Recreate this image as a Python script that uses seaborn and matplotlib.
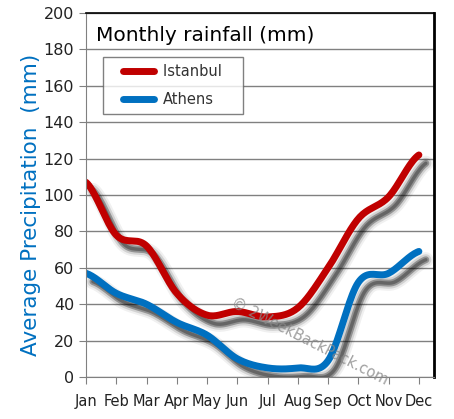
import numpy as np
import pandas as pd
import seaborn as sns
import matplotlib
matplotlib.use("Agg")
import matplotlib.pyplot as plt
import matplotlib.patheffects as pe
from matplotlib.legend_handler import HandlerLine2D

# monthly rainfall (mm)
months = ["Jan", "Feb", "Mar", "Apr", "May", "Jun", "Jul", "Aug", "Sep", "Oct", "Nov", "Dec"]
istanbul = [107, 78, 72, 46, 34, 36, 33, 38, 60, 87, 99, 122]
athens = [57, 46, 40, 30, 23, 10, 5, 5, 9, 52, 57, 69]
yticks = list(range(0, 201, 20))

red = "#C00000"
blue = "#0070C0"


def smooth(vals, n=20):
    # catmull-rom curve through the monthly values (display smoothing only)
    p = np.array(vals, dtype=float)
    p = np.concatenate([[p[0]], p, [p[-1]]])
    xs, ys = [], []
    for i in range(1, len(p) - 2):
        t = np.linspace(0, 1, n, endpoint=False)
        p0, p1, p2, p3 = p[i - 1], p[i], p[i + 1], p[i + 2]
        y = 0.5 * (2 * p1 + (-p0 + p2) * t + (2 * p0 - 5 * p1 + 4 * p2 - p3) * t ** 2
                   + (-p0 + 3 * p1 - 3 * p2 + p3) * t ** 3)
        xs.extend(i - 1 + t)
        ys.extend(y)
    xs.append(len(vals) - 1)
    ys.append(vals[-1])
    return np.array(xs), np.array(ys)


sns.set_style("white")
plt.rcParams["font.family"] = ["DejaVu Sans"]

fig = plt.figure(figsize=(4.54, 4.19), dpi=100)
ax = fig.add_axes([0.1894, 0.1002, 0.7666, 0.8688])

# soft drop shadow: a few stacked offset strokes
off = (5, -6)
shadow = [pe.SimpleLineShadow(offset=off, shadow_color="k", alpha=0.06, linewidth=11),
          pe.SimpleLineShadow(offset=off, shadow_color="k", alpha=0.12, linewidth=8),
          pe.SimpleLineShadow(offset=off, shadow_color="k", alpha=0.3, linewidth=5),
          pe.SimpleLineShadow(offset=off, shadow_color="k", alpha=0.3, linewidth=2.5),
          pe.Normal()]

for name, vals, col in [("Istanbul   ", istanbul, red), ("Athens", athens, blue)]:
    sx, sy = smooth(vals)
    df = pd.DataFrame({"x": sx, "y": sy})
    sns.lineplot(data=df, x="x", y="y", ax=ax, color=col, linewidth=5,
                 solid_capstyle="round", label=name, path_effects=shadow)

ax.set_xlim(0, 11.5)
ax.set_ylim(0, 200)
ax.set_xticks(range(len(months)))
ax.set_xticklabels(months)
ax.set_yticks(yticks)
ax.set_yticklabels([str(v) for v in yticks])
ax.set_xlabel("")
ax.set_ylabel("Average Precipitation  (mm)", color=blue, fontsize=15.5)
ax.yaxis.set_label_coords(-0.13, 0.472)
ax.yaxis.grid(True, color="#808080", linewidth=1)
ax.set_axisbelow(True)

ax.tick_params(axis="both", direction="out", length=5, color="#808080",
               labelsize=10.5, labelcolor="#222222", left=True, bottom=True)
ax.tick_params(axis="x", pad=7)
ax.tick_params(axis="y", labelsize=11.5)
ax.spines["left"].set_color("#808080")
ax.spines["bottom"].set_color("#808080")
ax.spines["top"].set_color("black")
ax.spines["top"].set_linewidth(1.2)
ax.spines["right"].set_color("black")
ax.spines["right"].set_linewidth(2)

ax.text(0.03, 0.965, "Monthly rainfall (mm)", transform=ax.transAxes,
        fontsize=14.5, color="black", va="top", ha="left")

ax.text(0.41, 0.225, "© 2WeekBackPack.com", transform=ax.transAxes, fontsize=10.5,
        color="#888888", alpha=0.8, rotation=-27, ha="left", va="top")

leg = ax.legend(loc="upper left", bbox_to_anchor=(0.049, 0.879), frameon=True,
                fancybox=False, edgecolor="#606060", fontsize=10.5,
                handlelength=3.0, handletextpad=0.6, borderpad=0.5,
                labelspacing=0.85, borderaxespad=0,
                handler_map={plt.Line2D: HandlerLine2D(xpad=0.9)})
leg.get_frame().set_linewidth(1)
for h in leg.get_lines():
    h.set_path_effects([])
    h.set_solid_capstyle("round")
for t in leg.get_texts():
    t.set_color("#333333")

fig.savefig("out.png", dpi=100)
